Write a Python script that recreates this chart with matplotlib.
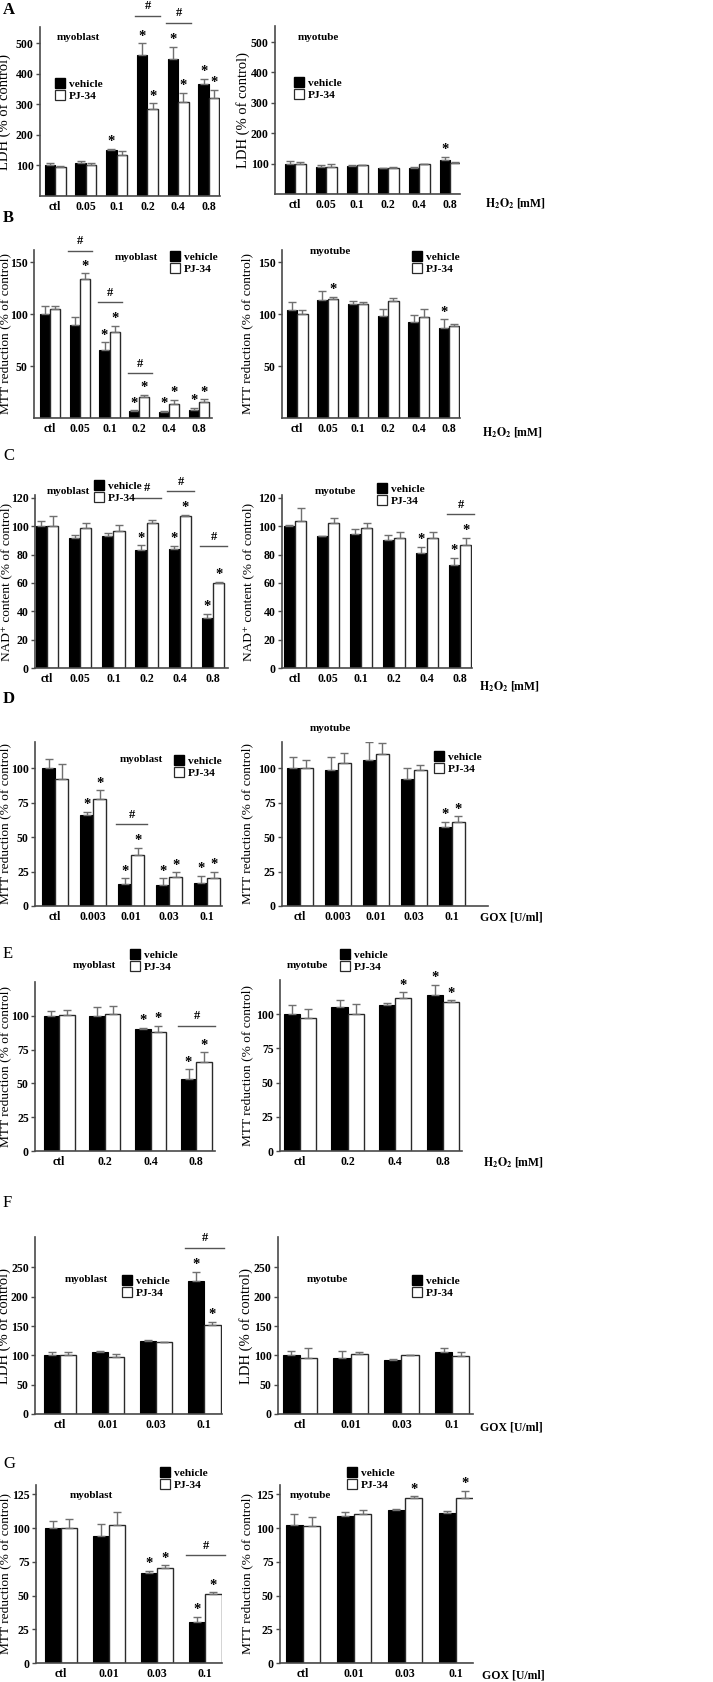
import matplotlib
matplotlib.use('Agg')
import matplotlib.pyplot as plt
import numpy as np
from matplotlib.lines import Line2D

plt.rcParams['font.family'] = ['Liberation Serif', 'DejaVu Serif']
plt.rcParams['font.weight'] = 'bold'
plt.rcParams['mathtext.fontset'] = 'stix'

W, H = 713, 1682
fig = plt.figure(figsize=(W / 100, H / 100), dpi=100)

# ---------------- data ----------------
h2o2_6 = ['ctl', '0.05', '0.1', '0.2', '0.4', '0.8']
gox_5 = ['ctl', '0.003', '0.01', '0.03', '0.1']
h2o2_4 = ['ctl', '0.2', '0.4', '0.8']
gox_4 = ['ctl', '0.01', '0.03', '0.1']

# A: LDH, H2O2
a_blast_veh = [100, 108, 149, 462, 448, 368]
a_blast_veh_err = [8, 5, 6, 38, 41, 15]
a_blast_pj = [96, 100, 135, 284, 306, 320]
a_blast_pj_err = [3, 8, 11, 19, 31, 28]
a_tube_veh = [100, 89, 92, 85, 87, 112]
a_tube_veh_err = [8, 7, 3, 2, 3, 10]
a_tube_pj = [98, 89, 95, 86, 98, 102]
a_tube_pj_err = [6, 10, 1, 2, 2, 2]

# B: MTT, H2O2
b_blast_veh = [100, 90, 66, 6.5, 6, 8]
b_blast_veh_err = [8, 7, 7, 1, 1, 2]
b_blast_pj = [105, 134.5, 83, 20, 13.5, 15]
b_blast_pj_err = [3, 5, 6, 2.5, 4, 3]
b_tube_veh = [104, 114, 110, 98, 92.5, 87]
b_tube_veh_err = [8, 8, 3, 7, 6.5, 8]
b_tube_pj = [100, 115, 110, 113, 97, 89]
b_tube_pj_err = [4.5, 2, 2, 3, 8, 2]

# C: NAD+, H2O2
c_blast_veh = [100, 91.4, 93, 83, 84, 35]
c_blast_veh_err = [3.5, 2.5, 2, 3.5, 2, 3]
c_blast_pj = [100, 98.6, 96.4, 102, 107, 60]
c_blast_pj_err = [7, 3.5, 4.5, 2.5, 1, 1]
c_tube_veh = [100, 92.8, 94.5, 90, 81, 72.5]
c_tube_veh_err = [1, 0.3, 3.5, 4, 4.5, 5]
c_tube_pj = [104, 102, 99, 92, 91.4, 87]
c_tube_pj_err = [9, 4, 3, 4, 4.5, 5]

# D: MTT, GOX
d_blast_veh = [100, 66, 16, 15, 17]
d_blast_veh_err = [7, 2.5, 4, 5, 5]
d_blast_pj = [92, 78, 37, 21, 20]
d_blast_pj_err = [11, 6, 5, 3.5, 5]
d_tube_veh = [100, 99, 106, 92, 57]
d_tube_veh_err = [8, 9, 13, 8, 4]
d_tube_pj = [100, 104, 110, 99, 61]
d_tube_pj_err = [6, 7, 8, 3.5, 4]

# E: MTT, H2O2 (4 doses)
e_blast_veh = [100, 100, 90, 53]
e_blast_veh_err = [3.7, 6.5, 1, 7.5]
e_blast_pj = [100.5, 101, 88, 66]
e_blast_pj_err = [4, 6, 4.5, 7]
e_tube_veh = [100, 105, 107, 114]
e_tube_veh_err = [7, 5.5, 1.5, 7.5]
e_tube_pj = [97, 100, 112, 108.6]
e_tube_pj_err = [6.5, 7.5, 4, 1.5]

# F: LDH, GOX (4 doses)
f_blast_veh = [100, 105, 124, 227]
f_blast_veh_err = [6, 3, 3, 16]
f_blast_pj = [100, 98, 122, 152]
f_blast_pj_err = [6, 4, 1, 5]
f_tube_veh = [100, 95, 91.5, 106]
f_tube_veh_err = [7, 12, 2, 7]
f_tube_pj = [96, 102, 100, 99]
f_tube_pj_err = [17, 4, 1, 6]

# G: MTT, GOX (4 doses)
g_blast_veh = [100, 94.5, 67, 30.7]
g_blast_veh_err = [5, 8.5, 1.5, 3.7]
g_blast_pj = [100, 102.7, 70.5, 51]
g_blast_pj_err = [7, 9, 2, 1.5]
g_tube_veh = [102, 109, 113.6, 111.4]
g_tube_veh_err = [8.6, 3, 0.3, 1.5]
g_tube_pj = [101.5, 110.6, 122, 122]
g_tube_pj_err = [6.5, 2.5, 1.5, 5.5]

LDH = 'LDH (% of control)'
MTT = 'MTT reduction (% of control)'
NAD = 'NAD\u207a content (% of control)'
H2O2_LBL = r'$\mathbf{H_2O_2}$ [mM]'
GOX_LBL = 'GOX [U/ml]'

# ---------------- drawing ----------------
BAR_W = 0.34
SPINE = '#4a4a4a'
ERR = '#707070'


def fx(px):
    return px / W


def fy(py):
    return 1 - py / H


def panel(box, xlim, ylim, yticks, cats, veh, veh_err, pj, pj_err,
          star_veh, star_pj, hashes, ylabel, ylabel_x,
          title, title_xy, leg_xy, xlabel=None, xlabel_xy=None):
    l, r, t, b = box
    ax = fig.add_axes([fx(l), fy(b), (r - l) / W, (b - t) / H])
    n = len(cats)
    x = np.arange(n)
    veh = np.asarray(veh, float)
    pj = np.asarray(pj, float)
    veh_err = np.asarray(veh_err, float)
    pj_err = np.asarray(pj_err, float)
    ax.bar(x - BAR_W / 2, veh, BAR_W, color='black', edgecolor='black', lw=0.8, zorder=2)
    ax.bar(x + BAR_W / 2, pj, BAR_W, color='white', edgecolor='#2a2a2a', lw=1.0, zorder=2)
    ax.errorbar(x - BAR_W / 2, veh, yerr=[np.zeros(n), veh_err], fmt='none',
                ecolor=ERR, elinewidth=1, capsize=3, capthick=1, zorder=3)
    ax.errorbar(x + BAR_W / 2, pj, yerr=[np.zeros(n), pj_err], fmt='none',
                ecolor=ERR, elinewidth=1, capsize=3, capthick=1, zorder=3)
    for i in star_veh:
        ax.annotate('*', (x[i] - BAR_W / 2, veh[i] + veh_err[i]), xytext=(0, 0.5),
                    textcoords='offset points', ha='center', va='bottom', fontsize=10.5,
                    annotation_clip=False)
    for i in star_pj:
        ax.annotate('*', (x[i] + BAR_W / 2, pj[i] + pj_err[i]), xytext=(0, 0.5),
                    textcoords='offset points', ha='center', va='bottom', fontsize=10.5,
                    annotation_clip=False)
    for i, yv in hashes:
        ax.plot([x[i] - BAR_W - 0.05, x[i] + BAR_W + 0.08], [yv, yv], color='#555555',
                lw=1.0, clip_on=False, zorder=4)
        ax.annotate('#', (x[i] + 0.02, yv), xytext=(0, 2.5), textcoords='offset points',
                    ha='center', va='bottom', fontsize=9, annotation_clip=False)
    ax.set_xlim(xlim)
    ax.set_ylim(ylim)
    ax.set_yticks(yticks)
    ax.set_xticks(x)
    ax.set_xticklabels(cats)
    for s in ('top', 'right'):
        ax.spines[s].set_visible(False)
    for s in ('left', 'bottom'):
        ax.spines[s].set_color(SPINE)
        ax.spines[s].set_linewidth(1.2)
    ax.tick_params(axis='x', length=0, pad=3.5, labelsize=8.5)
    ax.tick_params(axis='y', length=3, width=1, color=SPINE, pad=1.5, labelsize=8.5)
    ysize = 10.5 if ylabel == LDH else 9.6
    ax.set_ylabel(ylabel, fontsize=ysize)
    ax.yaxis.set_label_coords((ylabel_x - l) / (r - l), 0.5)
    fig.text(fx(title_xy[0]), fy(title_xy[1]), title, ha='left', va='center', fontsize=8)
    handles = [Line2D([], [], ls='none', marker='s', markersize=7,
                      markerfacecolor='black', markeredgecolor='black'),
               Line2D([], [], ls='none', marker='s', markersize=7,
                      markerfacecolor='white', markeredgecolor='#2a2a2a', markeredgewidth=0.9)]
    ax.legend(handles, ['vehicle', 'PJ-34'], loc='upper left',
              bbox_to_anchor=(fx(leg_xy[0] - 3), fy(leg_xy[1] - 7)),
              bbox_transform=fig.transFigure, frameon=False, handlelength=0.9,
              handletextpad=0.35, labelspacing=0.2, borderpad=0, borderaxespad=0,
              fontsize=8.2)
    if xlabel is not None:
        fig.text(fx(xlabel_xy[0]), fy(xlabel_xy[1]), xlabel, ha='left', va='center',
                 fontsize=8.5)
    return ax


# Row A
panel((40, 220, 27, 196), (-0.49, 5.36), (0, 553), [100, 200, 300, 400, 500], h2o2_6,
      a_blast_veh, a_blast_veh_err, a_blast_pj, a_blast_pj_err,
      [2, 3, 4, 5], [3, 4, 5], [(3, 590), (4, 567)], LDH, 11,
      'myoblast', (57, 38), (58, 86))
panel((275, 460, 26, 194), (-0.65, 5.32), (0, 553), [100, 200, 300, 400, 500], h2o2_6,
      a_tube_veh, a_tube_veh_err, a_tube_pj, a_tube_pj_err,
      [5], [], [], LDH, 250,
      'myotube', (298, 38), (297, 85), H2O2_LBL, (485, 204))

# Row B
panel((34, 212, 250, 418), (-0.54, 5.44), (0, 162), [50, 100, 150], h2o2_6,
      b_blast_veh, b_blast_veh_err, b_blast_pj, b_blast_pj_err,
      [2, 3, 4, 5], [1, 2, 3, 4, 5], [(1, 161.5), (2, 111.5), (3, 43)], MTT, 11,
      'myoblast', (115, 258), (173, 259))
panel((282, 460, 250, 418), (-0.5, 5.36), (0, 162), [50, 100, 150], h2o2_6,
      b_tube_veh, b_tube_veh_err, b_tube_pj, b_tube_pj_err,
      [5], [1], [], MTT, 253,
      'myotube', (310, 252), (415, 259), H2O2_LBL, (482, 433))

# Row C
panel((35, 228, 495, 668), (-0.36, 5.45), (0, 122), [0, 20, 40, 60, 80, 100, 120], h2o2_6,
      c_blast_veh, c_blast_veh_err, c_blast_pj, c_blast_pj_err,
      [3, 4, 5], [4, 5], [(3, 120), (4, 124.5), (5, 86)], NAD, 12,
      'myoblast', (47, 492), (97, 488))
panel((282, 472, 495, 668), (-0.39, 5.36), (0, 122), [0, 20, 40, 60, 80, 100, 120], h2o2_6,
      c_tube_veh, c_tube_veh_err, c_tube_pj, c_tube_pj_err,
      [4, 5], [5], [(5, 108.6)], NAD, 254,
      'myotube', (315, 491), (380, 491), H2O2_LBL, (479, 687))

# Row D
panel((35, 222, 742, 906), (-0.53, 4.39), (0, 119), [0, 25, 50, 75, 100], gox_5,
      d_blast_veh, d_blast_veh_err, d_blast_pj, d_blast_pj_err,
      [1, 2, 3, 4], [1, 2, 3, 4], [(2, 59.4)], MTT, 11,
      'myoblast', (120, 760), (177, 763))
panel((282, 488, 742, 906), (-0.47, 4.95), (0, 119), [0, 25, 50, 75, 100], gox_5,
      d_tube_veh, d_tube_veh_err, d_tube_pj, d_tube_pj_err,
      [4], [4], [], MTT, 253,
      'myotube', (310, 729), (437, 759), GOX_LBL, (480, 918))

# Row E
panel((35, 215, 982, 1151), (-0.53, 3.41), (0, 125), [0, 25, 50, 75, 100], h2o2_4,
      e_blast_veh, e_blast_veh_err, e_blast_pj, e_blast_pj_err,
      [2, 3], [2, 3], [(3, 92.6)], MTT, 11,
      'myoblast', (73, 965), (133, 957))
panel((280, 462, 980, 1151), (-0.42, 3.4), (0, 125), [0, 25, 50, 75, 100], h2o2_4,
      e_tube_veh, e_tube_veh_err, e_tube_pj, e_tube_pj_err,
      [3], [2, 3], [], MTT, 253,
      'myotube', (287, 965), (343, 957), H2O2_LBL, (483, 1163))

# Row F
panel((35, 222, 1237, 1414), (-0.52, 3.37), (0, 302), [0, 50, 100, 150, 200, 250], gox_4,
      f_blast_veh, f_blast_veh_err, f_blast_pj, f_blast_pj_err,
      [3], [3], [(3, 284)], LDH, 11,
      'myoblast', (65, 1280), (125, 1283))
panel((278, 473, 1237, 1414), (-0.43, 3.41), (0, 302), [0, 50, 100, 150, 200, 250], gox_4,
      f_tube_veh, f_tube_veh_err, f_tube_pj, f_tube_pj_err,
      [], [], [], LDH, 253,
      'myotube', (307, 1280), (415, 1283), GOX_LBL, (480, 1427))

# Row G
panel((36, 222, 1485, 1663), (-0.52, 3.35), (0, 132), [0, 25, 50, 75, 100, 125], gox_4,
      g_blast_veh, g_blast_veh_err, g_blast_pj, g_blast_pj_err,
      [2, 3], [2, 3], [(3, 80)], MTT, 11,
      'myoblast', (70, 1495), (163, 1475))
panel((280, 473, 1485, 1663), (-0.45, 3.33), (0, 132), [0, 25, 50, 75, 100, 125], gox_4,
      g_tube_veh, g_tube_veh_err, g_tube_pj, g_tube_pj_err,
      [], [2, 3], [], MTT, 253,
      'myotube', (290, 1495), (350, 1475), GOX_LBL, (482, 1676))

# panel letters
for letter, ypx, wt in [('A', 10, 'bold'), ('B', 218, 'bold'), ('C', 456, 'normal'),
                        ('D', 699, 'bold'), ('E', 954, 'normal'), ('F', 1203, 'normal'),
                        ('G', 1464, 'normal')]:
    fig.text(fx(3), fy(ypx), letter, ha='left', va='center', fontsize=12, fontweight=wt)

fig.savefig('out.png', dpi=100)
